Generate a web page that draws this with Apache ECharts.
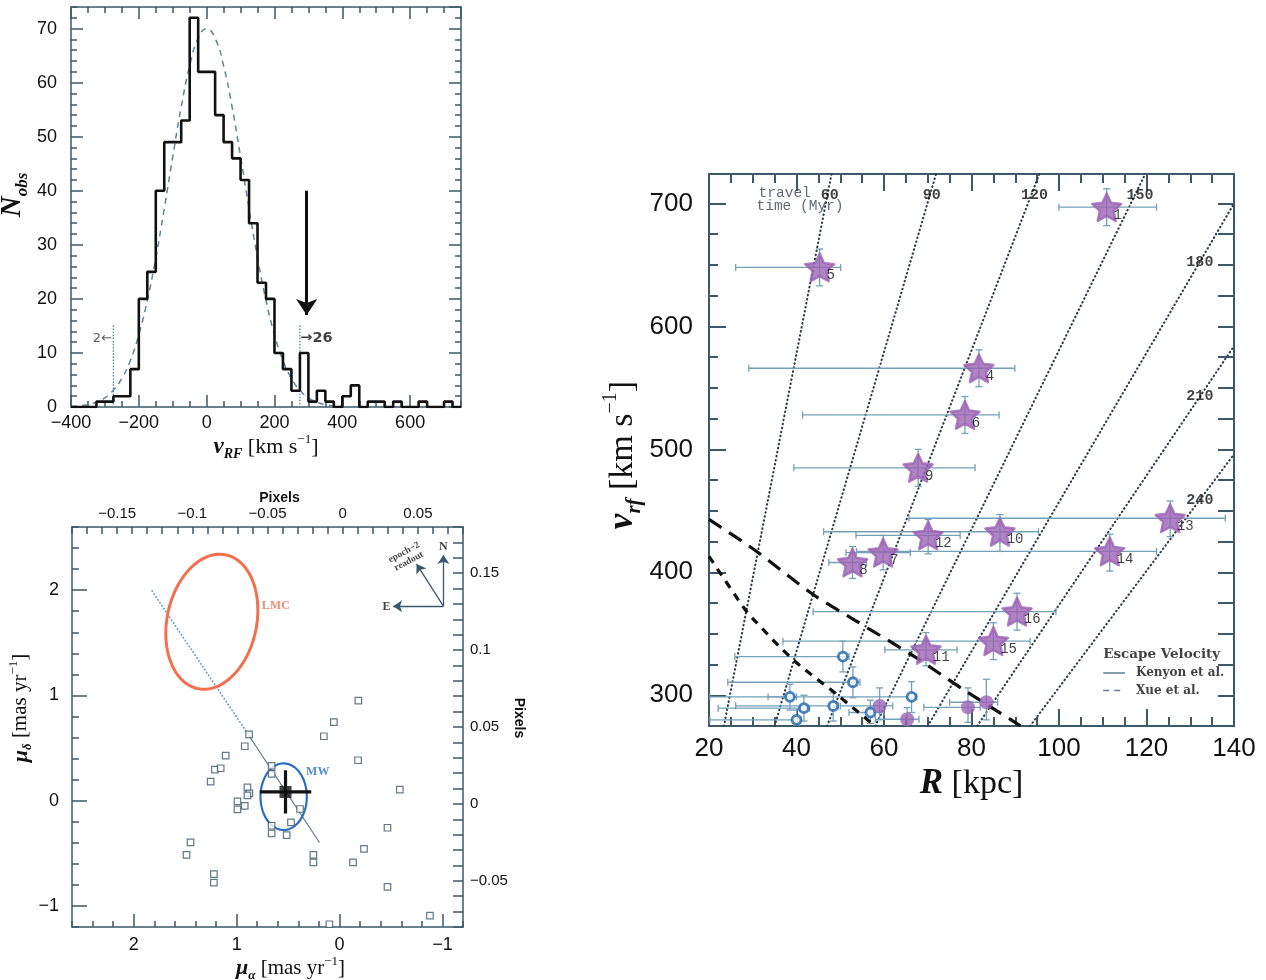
<!DOCTYPE html>
<html><head><meta charset="utf-8">
<script src="https://cdn.jsdelivr.net/npm/echarts@6/dist/echarts.min.js"></script>
<style>html,body{margin:0;padding:0;background:#fff}#c{width:1266px;height:980px}</style>
</head><body><div id="c"></div>
<script>
// ================= Panel A: velocity histogram =================
const binLeft = [-400,-375,-350,-325,-300,-275,-250,-225,-200,-175,-150,-125,-100,-75,-50,-25,0,25,50,75,100,125,150,175,200,225,250,275,300,325,350,375,400,425,450,475,500,525,550,575,600,625,650,675,700,725];
const binCount = [0,0,0,1,1,2,2,7,20,25,40,49,49,53,72,62,62,54,49,46,42,34,23,20,10,7,3,10,1,3,1,0,2,4,0,1,1,0,1,0,0,1,0,0,1,0];
const histEnd = 750;
const gaussV = [-400,-375,-350,-325,-300,-275,-250,-225,-200,-175,-150,-125,-100,-75,-50,-25,0,25,50,75,100,125,150,175,200,225,250,275,300,325,350,375,400];
const gaussN = [0.1,0.21,0.44,0.89,1.7,3.1,5.3,8.6,13.4,19.7,27.6,36.7,46.3,55.5,63.1,68.2,70,68.2,63.1,55.5,46.3,36.7,27.6,19.7,13.4,8.6,5.3,3.1,1.7,0.89,0.44,0.21,0.1];
const cutV = [-275, 275];
const cutTop = 15;
const cutText = [[-279, 12.7, '2\u2190'], [276, 12.7, '\u219226']];
const arrowA = [[295, 40], [295, 17]];

// ================= Panel B: proper motions =================
const fieldMuA = [0.879,0.152,0.055,-0.183,0.921,1.106,1.211,1.155,1.253,-0.18,0.66,0.66,0.895,0.876,0.895,0.992,0.992,0.921,0.384,0.472,0.66,0.66,0.514,-0.586,-0.466,-0.238,-0.131,0.254,0.254,-0.466,-0.879,0.098,1.448,1.487,1.221,1.221];
const fieldMuD = [0.629,0.612,0.746,0.95,0.517,0.429,0.295,0.308,0.181,0.384,0.33,0.254,0.127,0.07,0.05,-0.007,-0.083,-0.05,-0.079,-0.206,-0.238,-0.311,-0.327,0.105,-0.257,-0.457,-0.587,-0.514,-0.587,-0.819,-1.092,-1.174,-0.397,-0.514,-0.698,-0.778];
const mwPoint = [0.525, 0.083];
const mwErr = [0.25, 0.205];
const lmcEllipse = {c:[1.241, 1.70], a:0.65, b:0.435, deg:77.5};
const mwEllipse = {c:[0.543, 0.038], a:0.225, b:0.317, deg:0};
const lmcLineDotted = [[1.822, 1.993], [0.895, 0.641]];
const lmcLineSolid = [[0.895, 0.641], [0.195, -0.397]];
const compassOrigin = [-1.01, 1.848];
const compassTips = [[-1.01, 2.333], [-0.521, 1.848], [-0.749, 2.248]];
const compassText = [[-1.01, 2.41, 'N'], [-0.456, 1.845, 'E']];
const readoutText = [-0.651, 2.317, 'epoch\u22122\nreadout'];
const lmcText = [0.755, 1.848, 'LMC'];
const mwText = [0.325, 0.27, 'MW'];

// ================= Panel C: v_rf vs R =================
// [R, v, Rlo, Rhi, vlo, vhi, id]
const stars = [
  [110.9, 697, 100.0, 122.3, 682, 712, '1'],
  [45.3, 648, 26.1, 50.1, 633, 663, '5'],
  [81.7, 566, 29.1, 89.9, 551, 581, '4'],
  [78.5, 528, 41.4, 86.3, 513, 543, '6'],
  [67.8, 485, 39.4, 80.8, 470, 500, '9'],
  [70.1, 430, 53.6, 77.4, 415, 443, '12'],
  [59.8, 416, 51.3, 66.0, 402, 430, '7'],
  [52.8, 408, 47.4, 56.0, 395, 421, '8'],
  [69.6, 337, 60.2, 76.7, 324, 351, '11'],
  [86.5, 433, 46.2, 95.3, 417, 447, '10'],
  [111.6, 417, 53.7, 122.3, 401, 431, '14'],
  [125.4, 444, 65.7, 138.0, 429, 458, '13'],
  [90.4, 368, 43.8, 99.3, 353, 383, '16'],
  [85.0, 344, 36.9, 93.4, 329, 359, '15']
];
const openPts = [
  [50.6, 331.5, 25.9, 52.0, 319, 344],
  [52.9, 310.6, 24.3, 54.5, 298, 323],
  [38.5, 298.7, 33.5, 40.0, 288, 309],
  [66.3, 298.7, 20.2, 67.5, 286, 311],
  [41.7, 289.5, 22.1, 43.0, 279, 300],
  [48.4, 291.3, 26.1, 49.5, 279, 302],
  [40.0, 280.0, 20.2, 41.0, 275, 288],
  [56.9, 286.0, 52.0, 60.0, 277, 296]
];
const filledPts = [
  [59.0, 291.3, 50.0, 62.0, 280, 306],
  [65.3, 280.5, 58.0, 68.0, 275, 290],
  [79.2, 290.2, 69.1, 82.0, 278, 306],
  [83.4, 294.3, 75.0, 86.0, 280, 313]
];
const ttTimes = [60, 90, 120, 150, 180, 210, 240];
const ttLow = [[23.4,275],[35.0,275],[47.0,275],[58.0,275],[70.0,275],[81.3,275],[93.4,275]];
const ttHigh = [[48.0,724],[71.9,724],[95.5,724],[119.7,724],[140,700],[140,584],[140,496]];
const ttLabelPos = [[47.6,707],[70.9,707],[94.4,707],[118.5,707],[132.2,652],[132.2,543],[132.2,458.5]];
const ttTitle = [[37.3, 708.2, 'travel'], [40.8, 697.6, 'time (Myr)']];
const kenyonR = [20, 30.5, 43.8, 52.9, 66.7, 78.0, 89.5, 91.2];
const kenyonV = [443, 418, 382, 362, 332, 305, 279, 275];
const xueR = [20, 27.8, 30.1, 39.2, 49.1, 57.1, 58.0];
const xueV = [413, 372, 362, 329, 301, 277.5, 275];
const legendTitle = [110.1, 333.1, 'Escape Velocity'];
const legendNames = ['Kenyon et al.', 'Xue et al.'];
const legendV = [318.2, 303.8];
const legendLineR = [110.1, 115.1];
const legendTextR = 117.6;

// ================= styling =================
const AX = '#3d5866';
const TXT = '#111';
const SANS = '"Liberation Sans", Arial, sans-serif';
const SERIF = '"Liberation Serif", "Times New Roman", serif';
const MONO = '"Liberation Mono", "Courier New", monospace';
const DSERIF = '"DejaVu Serif", serif';
const PURPLE = '#9b64b4';
const ERR = '#75a0b6';
const BLUE = '#1f63ad';

const minus = v => (v < 0 ? '\u2212' : '') + Math.abs(v);
const fmtInt = v => minus(Math.round(v));
const fmtNum = v => minus(Math.round(v * 1000) / 1000);
const pixFmt = v => { const k = Math.round(v * 100); return (k % 5 !== 0) ? '' : minus(k / 100); };

function mk(o) {
  const lw = o.lw || 1.5;
  const a = {
    type: 'value', gridIndex: o.g, position: o.pos, min: o.min, max: o.max,
    inverse: !!o.inv, silent: true,
    splitLine: {show: false}, splitArea: {show: false},
    axisLine: {show: !!o.line, onZero: false, lineStyle: {color: AX, width: lw}},
    axisTick: {show: true, inside: true, length: o.tick, lineStyle: {color: AX, width: lw}},
    minorTick: {show: !!o.minor, splitNumber: o.minor || 5, length: o.minorLen || 5, lineStyle: {color: AX, width: lw}},
    axisLabel: {show: false}
  };
  if (o.interval !== undefined) a.interval = o.interval;
  if (o.label) a.axisLabel = Object.assign({show: true, color: TXT, fontFamily: SANS}, o.label);
  if (o.name) {
    a.name = o.name; a.nameLocation = 'middle'; a.nameGap = o.nameGap;
    if (o.nameRotate !== undefined) a.nameRotate = o.nameRotate;
    a.nameTextStyle = o.nameStyle;
  }
  return a;
}

function richName(size, pad, subScale) {
  const ss = subScale || 0.62;
  return {
    color: TXT, fontFamily: SERIF, fontSize: size, padding: pad,
    rich: {
      i: {fontFamily: SERIF, fontStyle: 'italic', fontWeight: 'bold', fontSize: size + 1, lineHeight: size * 1.3, verticalAlign: 'middle', color: TXT},
      s: {fontFamily: SERIF, fontStyle: 'italic', fontWeight: 'bold', fontSize: Math.round(size * ss), lineHeight: size * 0.8, verticalAlign: 'bottom', color: TXT},
      t: {fontFamily: SERIF, fontSize: size, lineHeight: size * 1.3, verticalAlign: 'middle', color: TXT},
      p: {fontFamily: SERIF, fontSize: Math.round(size * 0.6), lineHeight: size * 0.95, verticalAlign: 'top', color: TXT}
    }
  };
}

function ellipsePts(e) {
  const pts = []; const ph = e.deg * Math.PI / 180;
  for (let k = 0; k <= 90; k++) {
    const t = k * 2 * Math.PI / 90;
    const u = e.a * Math.cos(t) * Math.cos(ph) - e.b * Math.sin(t) * Math.sin(ph);
    const v = e.a * Math.cos(t) * Math.sin(ph) + e.b * Math.sin(t) * Math.cos(ph);
    pts.push([e.c[0] - u, e.c[1] + v]);
  }
  return pts;
}

function errRender(params, api) {
  const R = api.value(0), v = api.value(1);
  const a = api.coord([api.value(2), v]), b = api.coord([api.value(3), v]);
  const c = api.coord([R, api.value(4)]), d = api.coord([R, api.value(5)]);
  const cap = 3.5;
  const st = {stroke: ERR, lineWidth: 1.3};
  const seg = (x1, y1, x2, y2) => ({type: 'line', shape: {x1, y1, x2, y2}, style: st});
  return {type: 'group', children: [
    seg(a[0], a[1], b[0], b[1]), seg(a[0], a[1] - cap, a[0], a[1] + cap), seg(b[0], b[1] - cap, b[0], b[1] + cap),
    seg(c[0], c[1], d[0], d[1]), seg(c[0] - cap, c[1], c[0] + cap, c[1]), seg(d[0] - cap, d[1], d[0] + cap, d[1])
  ]};
}

const STAR = 'path://M50,0 L64.11,30.58 L97.55,34.55 L72.82,57.42 L79.39,90.45 L50,74 L20.61,90.45 L27.18,57.42 L2.45,34.55 L35.89,30.58 Z';

function textSeries(xi, yi, data, label) {
  return {
    type: 'scatter', xAxisIndex: xi, yAxisIndex: yi, symbolSize: 1, silent: true, z: 6,
    itemStyle: {color: 'rgba(0,0,0,0)'},
    data: data,
    label: Object.assign({show: true, position: 'inside', formatter: p => p.data[2], color: TXT}, label)
  };
}

const series = [];
// ---- Panel A ----
series.push({
  type: 'line', xAxisIndex: 0, yAxisIndex: 0, smooth: true, symbol: 'none', silent: true, z: 3,
  lineStyle: {color: '#5f8596', width: 1.5, type: [6, 5]},
  data: gaussV.map((x, i) => [x, gaussN[i]])
});
series.push({
  type: 'line', xAxisIndex: 0, yAxisIndex: 0, step: 'end', symbol: 'none', silent: true, z: 4,
  lineStyle: {color: '#111', width: 2.6},
  data: binLeft.map((x, i) => [x, binCount[i]]).concat([[histEnd, 0]])
});
cutV.forEach(x => series.push({
  type: 'line', xAxisIndex: 0, yAxisIndex: 0, symbol: 'none', silent: true, z: 3,
  lineStyle: {color: '#5b8ba0', width: 1.4, type: [0.5, 2.6], cap: 'round'},
  data: [[x, 0], [x, cutTop]]
}));
series.push(textSeries(0, 0, [cutText[0]], {align: 'right', fontFamily: '"DejaVu Sans", sans-serif', fontSize: 13, color: '#333'}));
series.push(textSeries(0, 0, [cutText[1]], {align: 'left', fontFamily: '"DejaVu Sans", sans-serif', fontSize: 14.5, fontWeight: 'bold', color: '#111'}));
series.push({
  type: 'lines', coordinateSystem: 'cartesian2d', xAxisIndex: 0, yAxisIndex: 0, silent: true, z: 5,
  symbol: ['none', 'arrow'], symbolSize: 16,
  lineStyle: {color: '#111', width: 3, opacity: 1},
  data: [{coords: arrowA}]
});

// ---- Panel B ----
series.push({
  type: 'line', xAxisIndex: 4, yAxisIndex: 4, symbol: 'none', silent: true, z: 2,
  lineStyle: {color: '#5a9cc0', width: 1.6, type: [0.5, 3], cap: 'round'},
  data: lmcLineDotted
});
series.push({
  type: 'line', xAxisIndex: 4, yAxisIndex: 4, symbol: 'none', silent: true, z: 2,
  lineStyle: {color: '#5a7888', width: 1.2},
  data: lmcLineSolid
});
series.push({
  type: 'line', xAxisIndex: 4, yAxisIndex: 4, symbol: 'none', silent: true, z: 3,
  lineStyle: {color: '#f26f50', width: 3},
  data: ellipsePts(lmcEllipse)
});
series.push({
  type: 'line', xAxisIndex: 4, yAxisIndex: 4, symbol: 'none', silent: true, z: 3,
  lineStyle: {color: '#2a6fbf', width: 2.2},
  data: ellipsePts(mwEllipse)
});
series.push({
  type: 'scatter', xAxisIndex: 4, yAxisIndex: 4, symbol: 'rect', symbolSize: 6.5, silent: true, z: 4,
  itemStyle: {color: '#ffffff', borderColor: '#3c5868', borderWidth: 1.2},
  data: fieldMuA.map((x, i) => [x, fieldMuD[i]])
});
series.push({
  type: 'line', xAxisIndex: 4, yAxisIndex: 4, symbol: 'none', silent: true, z: 5,
  lineStyle: {color: '#111', width: 3.2},
  data: [[mwPoint[0] + mwErr[0], mwPoint[1]], [mwPoint[0] - mwErr[0], mwPoint[1]]]
});
series.push({
  type: 'line', xAxisIndex: 4, yAxisIndex: 4, symbol: 'none', silent: true, z: 5,
  lineStyle: {color: '#111', width: 3.2},
  data: [[mwPoint[0], mwPoint[1] + mwErr[1]], [mwPoint[0], mwPoint[1] - mwErr[1]]]
});
series.push({
  type: 'scatter', xAxisIndex: 4, yAxisIndex: 4, symbol: 'rect', symbolSize: 12, silent: true, z: 6,
  itemStyle: {color: '#111'},
  data: [mwPoint]
});
series.push({
  type: 'lines', coordinateSystem: 'cartesian2d', xAxisIndex: 4, yAxisIndex: 4, silent: true, z: 5,
  symbol: ['none', 'arrow'], symbolSize: 9,
  lineStyle: {color: '#3c5868', width: 1.3, opacity: 1},
  data: compassTips.map(t => ({coords: [compassOrigin, t]}))
});
series.push(textSeries(4, 4, compassText, {fontFamily: SERIF, fontWeight: 'bold', fontSize: 12, align: 'center'}));
series.push(textSeries(4, 4, [readoutText], {fontFamily: SERIF, fontWeight: 'bold', fontSize: 9.5, lineHeight: 10, rotate: 28, align: 'center'}));
series.push(textSeries(4, 4, [lmcText], {fontFamily: SERIF, fontWeight: 'bold', fontSize: 12, align: 'left', color: '#f26f50'}));
series.push(textSeries(4, 4, [mwText], {fontFamily: SERIF, fontWeight: 'bold', fontSize: 12, align: 'left', color: '#2a6fbf'}));

// ---- Panel C ----
ttTimes.forEach((t, i) => series.push({
  type: 'line', xAxisIndex: 7, yAxisIndex: 7, symbol: 'none', silent: true, z: 1,
  lineStyle: {color: '#2c3e4c', width: 2.1, type: [0.5, 3.6], cap: 'round'},
  data: [ttLow[i], ttHigh[i]]
}));
series.push(textSeries(7, 7, ttLabelPos.map((p, i) => [p[0], p[1], String(ttTimes[i])]),
  {fontFamily: MONO, fontWeight: 'bold', fontSize: 15, align: 'center', color: '#111'}));
series.push(textSeries(7, 7, ttTitle, {fontFamily: MONO, fontSize: 14.5, align: 'center', color: '#3a4550'}));
series.push({
  type: 'custom', xAxisIndex: 7, yAxisIndex: 7, coordinateSystem: 'cartesian2d', silent: true, z: 2, clip: true,
  renderItem: errRender, encode: {x: 0, y: 1},
  data: stars.concat(openPts).concat(filledPts).map(r => r.slice(0, 6))
});
series.push({
  type: 'line', xAxisIndex: 7, yAxisIndex: 7, symbol: 'none', smooth: 0.3, silent: true, z: 3,
  lineStyle: {color: '#111', width: 3.2, type: [15, 9]},
  data: kenyonR.map((r, i) => [r, kenyonV[i]])
});
series.push({
  type: 'line', xAxisIndex: 7, yAxisIndex: 7, symbol: 'none', smooth: 0.3, silent: true, z: 3,
  lineStyle: {color: '#111', width: 3.2, type: [8, 7]},
  data: xueR.map((r, i) => [r, xueV[i]])
});
series.push({
  type: 'scatter', xAxisIndex: 7, yAxisIndex: 7, symbol: 'circle', symbolSize: 9, silent: true, z: 4,
  itemStyle: {color: '#ffffff', borderColor: BLUE, borderWidth: 2.8},
  data: openPts.map(r => [r[0], r[1]])
});
series.push({
  type: 'scatter', xAxisIndex: 7, yAxisIndex: 7, symbol: 'circle', symbolSize: 14, silent: true, z: 4,
  itemStyle: {color: PURPLE},
  data: filledPts.map(r => [r[0], r[1]])
});
series.push({
  type: 'scatter', xAxisIndex: 7, yAxisIndex: 7, symbol: STAR, symbolSize: 29, symbolKeepAspect: true, silent: true, z: 5,
  itemStyle: {color: PURPLE, borderColor: PURPLE, borderWidth: 2.5, borderJoin: 'round'},
  data: stars.map(r => [r[0], r[1], r[6]]),
  label: {show: true, position: 'right', distance: 0, offset: [-9, 8], formatter: p => p.data[2],
    fontFamily: MONO, fontSize: 14, color: '#111'}
});
// legend (drawn inside the panel)
series.push({
  type: 'line', xAxisIndex: 7, yAxisIndex: 7, symbol: 'none', silent: true, z: 6,
  lineStyle: {color: '#5c7f92', width: 1.5},
  data: [[legendLineR[0], legendV[0]], [legendLineR[1], legendV[0]]]
});
series.push({
  type: 'line', xAxisIndex: 7, yAxisIndex: 7, symbol: 'none', silent: true, z: 6,
  lineStyle: {color: '#5c7f92', width: 1.5, type: [6, 5]},
  data: [[legendLineR[0], legendV[1]], [legendLineR[1], legendV[1]]]
});
series.push(textSeries(7, 7, [legendTitle], {fontFamily: DSERIF, fontWeight: 'bold', fontSize: 13.5, align: 'left'}));
series.push(textSeries(7, 7, legendNames.map((n, i) => [legendTextR, legendV[i], n]),
  {fontFamily: DSERIF, fontWeight: 'bold', fontSize: 12, align: 'left'}));

const option = {
  animation: false,
  backgroundColor: '#ffffff',
  grid: [
    {left: 71, top: 7, width: 390, height: 400, containLabel: false, outerBoundsMode: 'none'},
    {left: 72, top: 527, width: 391, height: 400, containLabel: false, outerBoundsMode: 'none'},
    {left: 709, top: 174, width: 525, height: 552, containLabel: false, outerBoundsMode: 'none'}
  ],
  xAxis: [
    mk({g: 0, pos: 'bottom', min: -400, max: 750, interval: 200, tick: 12, line: true,
      label: {fontSize: 18, margin: 7, formatter: fmtInt, showMaxLabel: false},
      name: '{i|v}{s|RF}{t| [km s}{p|\u22121}{t|]}', nameGap: 23, nameStyle: richName(22, [0, 0, 0, 0])}),
    mk({g: 0, pos: 'bottom', min: -400, max: 750, interval: 50, tick: 6}),
    mk({g: 0, pos: 'top', min: -400, max: 750, interval: 200, tick: 12, line: true}),
    mk({g: 0, pos: 'top', min: -400, max: 750, interval: 50, tick: 6}),

    mk({g: 1, pos: 'bottom', min: -1.2, max: 2.6, inv: true, tick: 13, line: true,
      label: {fontSize: 18, margin: 9, formatter: fmtNum, showMinLabel: false, showMaxLabel: false},
      name: '{i|\u03bc}{s|\u03b1}{t| [mas yr}{p|\u22121}{t|]}', nameGap: 20, nameStyle: richName(21, [0, 0, 0, 46])}),
    mk({g: 1, pos: 'bottom', min: -1.2, max: 2.6, inv: true, interval: 0.2, tick: 6}),
    mk({g: 1, pos: 'top', min: -0.18, max: 0.08, interval: 0.01, tick: 7, line: true,
      label: {fontSize: 15, margin: 6, formatter: pixFmt},
      name: 'Pixels', nameGap: 22, nameStyle: {fontFamily: SANS, fontWeight: 'bold', fontSize: 14, color: TXT, padding: [0, 0, 0, 24]}}),

    mk({g: 2, pos: 'bottom', min: 20, max: 140, interval: 20, tick: 17, minor: 4, minorLen: 9, line: true, lw: 2,
      label: {fontSize: 26, margin: 10},
      name: '{i|R}{t| [kpc]}', nameGap: 32, nameStyle: richName(34, [0, 0, 0, 0])}),
    mk({g: 2, pos: 'top', min: 20, max: 140, interval: 20, tick: 17, minor: 4, minorLen: 9, line: true, lw: 2})
  ],
  yAxis: [
    mk({g: 0, pos: 'left', min: 0, max: 74, interval: 10, tick: 12, line: true,
      label: {fontSize: 18, margin: 14, showMaxLabel: false},
      name: '{i|N}{s|obs}', nameGap: 40, nameRotate: 90, nameStyle: richName(28, [0, 0, 0, 24], 0.6)}),
    mk({g: 0, pos: 'left', min: 0, max: 74, interval: 2, tick: 6}),
    mk({g: 0, pos: 'right', min: 0, max: 74, interval: 10, tick: 12, line: true}),
    mk({g: 0, pos: 'right', min: 0, max: 74, interval: 2, tick: 6}),

    mk({g: 1, pos: 'left', min: -1.2, max: 2.6, tick: 15, line: true,
      label: {fontSize: 18, margin: 13, formatter: fmtNum, showMinLabel: false, showMaxLabel: false},
      name: '{i|\u03bc}{s|\u03b4}{t| [mas yr}{p|\u22121}{t|]}', nameGap: 31, nameRotate: 90, nameStyle: richName(21, [0, 0, 0, 38])}),
    mk({g: 1, pos: 'left', min: -1.2, max: 2.6, interval: 0.2, tick: 7}),
    mk({g: 1, pos: 'right', min: -0.08, max: 0.18, interval: 0.01, tick: 10, line: true,
      label: {fontSize: 15, margin: 7, formatter: pixFmt},
      name: 'Pixels', nameGap: 36, nameRotate: -90, nameStyle: {fontFamily: SANS, fontWeight: 'bold', fontSize: 14, color: TXT, padding: [0, 18, 0, 0]}}),

    mk({g: 2, pos: 'left', min: 275, max: 724, tick: 17, line: true, lw: 2,
      label: {fontSize: 26, margin: 16, showMinLabel: false, showMaxLabel: false},
      name: '{i|v}{s|rf}{t| [km s}{p|\u22121}{t|]}', nameGap: 64, nameRotate: 90, nameStyle: richName(34, [0, 10, 0, 0])}),
    mk({g: 2, pos: 'left', min: 275, max: 724, interval: 25, tick: 9, lw: 2}),
    mk({g: 2, pos: 'right', min: 275, max: 724, interval: 25, tick: 16, line: true, lw: 2})
  ],
  series: series
};

const chart = echarts.init(document.getElementById('c'), null, {renderer: 'canvas', width: 1266, height: 980});
chart.setOption(option);
</script>
</body></html>
